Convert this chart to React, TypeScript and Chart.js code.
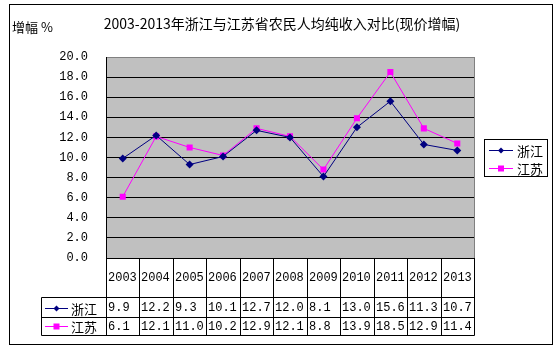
import React, { useEffect, useRef } from "react";
import { Chart, registerables } from "chart.js";

Chart.register(...registerables);

const years = ["2003", "2004", "2005", "2006", "2007", "2008", "2009", "2010", "2011", "2012", "2013"];
const zhejiang = [9.9, 12.2, 9.3, 10.1, 12.7, 12.0, 8.1, 13.0, 15.6, 11.3, 10.7];
const jiangsu = [6.1, 12.1, 11.0, 10.2, 12.9, 12.1, 8.8, 13.9, 18.5, 12.9, 11.4];
const seriesNames = ["浙江", "江苏"];
const titleText = "2003-2013年浙江与江苏省农民人均纯收入对比(现价增幅)";
const yAxisTitle = "增幅 %";

const NAVY = "#000080";
const MAGENTA = "#FF00FF";
const CJK = '"Noto Sans CJK SC", sans-serif';
const NUM = '"Liberation Mono", monospace';

function drawMarker(ctx: CanvasRenderingContext2D, kind: number, x: number, y: number) {
  ctx.save();
  if (kind === 0) {
    ctx.fillStyle = NAVY;
    ctx.beginPath();
    ctx.moveTo(x, y - 3);
    ctx.lineTo(x + 3, y);
    ctx.lineTo(x, y + 3);
    ctx.lineTo(x - 3, y);
    ctx.closePath();
    ctx.fill();
  } else {
    ctx.fillStyle = MAGENTA;
    ctx.fillRect(x - 3, y - 3, 6, 6);
  }
  ctx.restore();
}

function drawLegendSymbol(ctx: CanvasRenderingContext2D, kind: number, x1: number, x2: number, y: number) {
  ctx.save();
  ctx.strokeStyle = kind === 0 ? NAVY : MAGENTA;
  ctx.lineWidth = 1;
  ctx.beginPath();
  ctx.moveTo(x1, y + 0.5);
  ctx.lineTo(x2, y + 0.5);
  ctx.stroke();
  ctx.restore();
  drawMarker(ctx, kind, (x1 + x2) / 2, y + 0.5);
}

const decorPlugin = {
  id: "decor",
  beforeDraw(chart: any) {
    const { ctx, chartArea } = chart;
    ctx.save();
    ctx.fillStyle = "#ffffff";
    ctx.fillRect(0, 0, chart.width, chart.height);
    ctx.fillStyle = "#C0C0C0";
    ctx.fillRect(chartArea.left, chartArea.top, chartArea.right - chartArea.left, chartArea.bottom - chartArea.top);
    ctx.restore();
  },
  afterDraw(chart: any) {
    const { ctx, chartArea } = chart;
    const x = chart.scales.x;
    ctx.save();
    // outer border
    ctx.strokeStyle = "#000";
    ctx.lineWidth = 1;
    ctx.strokeRect(9.5, 4.5, 543, 340);

    // plot right border (grey)
    ctx.strokeStyle = "#808080";
    ctx.beginPath();
    ctx.moveTo(Math.round(chartArea.right) + 0.5, chartArea.top);
    ctx.lineTo(Math.round(chartArea.right) + 0.5, chartArea.bottom);
    ctx.stroke();

    // title
    ctx.fillStyle = "#000";
    ctx.font = `14px ${CJK}`;
    ctx.textAlign = "center";
    ctx.textBaseline = "middle";
    ctx.fillText(titleText, 282, 24);
    ctx.font = `13px ${CJK}`;
    ctx.textAlign = "left";
    ctx.fillText(yAxisTitle, 12, 27);

    // data table
    const half = (x.getPixelForValue(1) - x.getPixelForValue(0)) / 2;
    const bounds: number[] = [];
    for (let i = 0; i <= years.length; i++) {
      const px = i < years.length ? x.getPixelForValue(i) - half : x.getPixelForValue(years.length - 1) + half;
      bounds.push(Math.round(px) + 0.5);
    }
    const top = Math.round(chartArea.bottom) + 0.5;
    const row1 = 297.5;
    const row2 = 317.5;
    const row3 = 335.5;
    const leftCol = 41.5;
    ctx.strokeStyle = "#000";
    ctx.beginPath();
    bounds.forEach((bx) => {
      ctx.moveTo(bx, top);
      ctx.lineTo(bx, row3);
    });
    [row1, row2, row3].forEach((ry) => {
      ctx.moveTo(leftCol, ry);
      ctx.lineTo(bounds[bounds.length - 1], ry);
    });
    ctx.moveTo(leftCol, row1);
    ctx.lineTo(leftCol, row3);
    ctx.stroke();

    ctx.fillStyle = "#000";
    ctx.font = `12px ${NUM}`;
    ctx.textAlign = "left";
    ctx.textBaseline = "middle";
    years.forEach((yr, i) => {
      ctx.fillText(yr, bounds[i] + 1.5, 278);
      ctx.fillText(zhejiang[i].toFixed(1), bounds[i] + 1.5, 308);
      ctx.fillText(jiangsu[i].toFixed(1), bounds[i] + 1.5, 327);
    });

    // row headers
    drawLegendSymbol(ctx, 0, 45, 68, 308);
    drawLegendSymbol(ctx, 1, 45, 68, 326);
    ctx.fillStyle = "#000";
    ctx.font = `13px ${CJK}`;
    ctx.fillText(seriesNames[0], 71, 309);
    ctx.fillText(seriesNames[1], 71, 327);

    // legend box
    ctx.strokeStyle = "#000";
    ctx.strokeRect(484.5, 139.5, 63, 37);
    drawLegendSymbol(ctx, 0, 489, 513, 150);
    drawLegendSymbol(ctx, 1, 489, 513, 168);
    ctx.fillStyle = "#000";
    ctx.fillText(seriesNames[0], 517, 151);
    ctx.fillText(seriesNames[1], 517, 169);
    ctx.restore();
  },
};

export default function App() {
  const ref = useRef<HTMLCanvasElement | null>(null);
  useEffect(() => {
    document.body.style.margin = "0";
    if (!ref.current) return;
    const chart = new Chart(ref.current, {
      type: "line",
      data: {
        labels: years,
        datasets: [
          {
            label: seriesNames[0],
            data: zhejiang,
            borderColor: NAVY,
            backgroundColor: NAVY,
            borderWidth: 1,
            pointStyle: "rectRot",
            pointRadius: 4,
            pointBorderWidth: 0,
            pointBackgroundColor: NAVY,
            tension: 0,
          },
          {
            label: seriesNames[1],
            data: jiangsu,
            borderColor: MAGENTA,
            backgroundColor: MAGENTA,
            borderWidth: 1,
            pointStyle: "rect",
            pointRadius: 4.3,
            pointBorderWidth: 0,
            pointBackgroundColor: MAGENTA,
            tension: 0,
          },
        ],
      },
      options: {
        animation: false,
        responsive: false,
        devicePixelRatio: 1,
        layout: { padding: { top: 57, right: 84, left: 0, bottom: 0 } },
        plugins: {
          legend: { display: false },
          title: { display: false },
          tooltip: { enabled: false },
        },
        scales: {
          x: {
            type: "category",
            offset: true,
            grid: { display: false, drawTicks: false },
            ticks: { display: false },
            border: { display: true, color: "#000", width: 1 },
            afterFit: (s: any) => {
              s.height = 96;
            },
          },
          y: {
            min: 0,
            max: 20,
            ticks: {
              stepSize: 2,
              color: "#000",
              font: { family: NUM, size: 12 },
              padding: 18,
              callback: (v: any) => Number(v).toFixed(1),
            },
            grid: {
              drawTicks: false,
              color: (c: any) => (c.tick && c.tick.value === 20 ? "#808080" : "#000"),
              lineWidth: 1,
            },
            border: { display: true, color: "#000", width: 1 },
            afterFit: (s: any) => {
              s.width = 106;
            },
          },
        },
      },
      plugins: [decorPlugin],
    });
    return () => chart.destroy();
  }, []);
  return <canvas ref={ref} width={558} height={354} style={{ display: "block" }} />;
}
